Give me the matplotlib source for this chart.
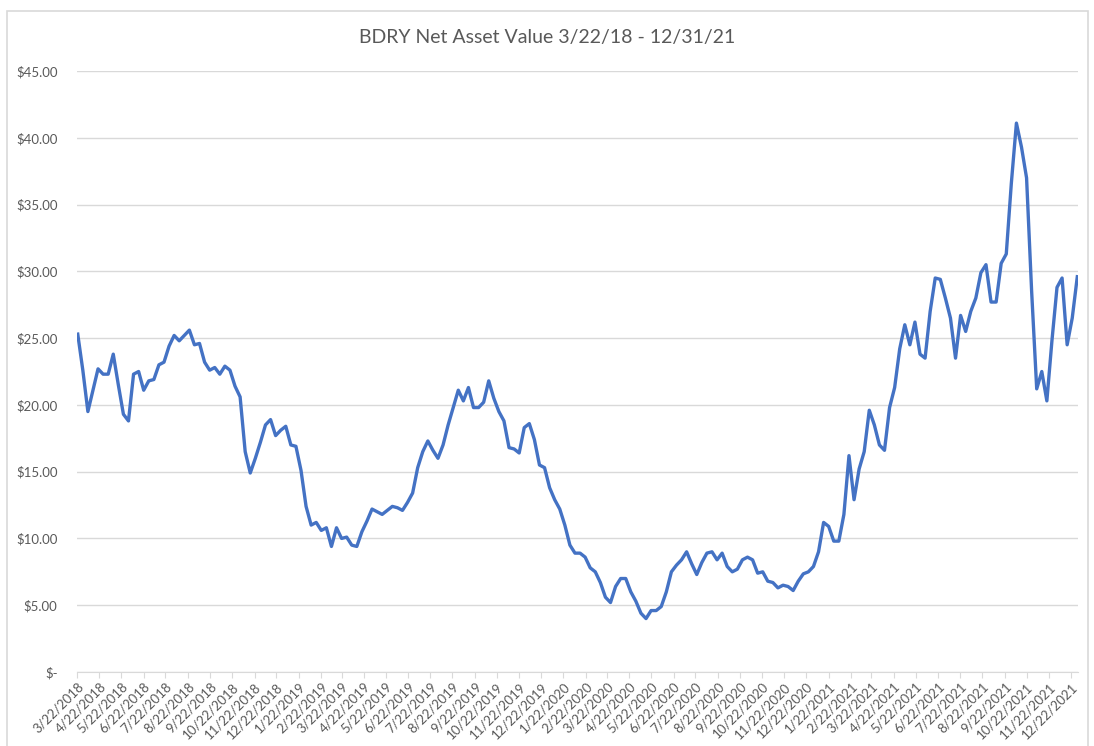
import matplotlib
matplotlib.use("Agg")
import matplotlib.pyplot as plt
import matplotlib.dates as mdates
from matplotlib.patches import Rectangle
from matplotlib.ticker import FuncFormatter
import pandas as pd

plt.rcParams['font.family'] = ['Lato', 'DejaVu Sans']

TITLE = "BDRY Net Asset Value 3/22/18 - 12/31/21"

# weekly NAV readings (Fridays), 3/23/2018 .. 12/31/2021
nav = [
    25.3, 22.6, 19.5, 21.1, 22.7, 22.3, 22.3, 23.8, 21.5, 19.3,
    18.8, 22.3, 22.5, 21.1, 21.8, 21.9, 23.0, 23.2, 24.4, 25.2,
    24.8, 25.2, 25.6, 24.5, 24.6, 23.2, 22.6, 22.8, 22.3, 22.9,
    22.6, 21.4, 20.6, 16.5, 14.9, 16.0, 17.2, 18.5, 18.9, 17.7,
    18.1, 18.4, 17.0, 16.9, 15.1, 12.4, 11.0, 11.2, 10.6, 10.8,
    9.4, 10.8, 10.0, 10.1, 9.5, 9.4, 10.5, 11.3, 12.2, 12.0,
    11.8, 12.1, 12.4, 12.3, 12.1, 12.7, 13.4, 15.3, 16.5, 17.3,
    16.6, 16.0, 17.0, 18.5, 19.8, 21.1, 20.3, 21.3, 19.8, 19.8,
    20.2, 21.8, 20.5, 19.5, 18.8, 16.8, 16.7, 16.4, 18.3, 18.6,
    17.4, 15.5, 15.3, 13.8, 12.9, 12.2, 11.0, 9.5, 8.9, 8.9,
    8.6, 7.8, 7.5, 6.7, 5.6, 5.2, 6.4, 7.0, 7.0, 6.0,
    5.3, 4.4, 4.0, 4.6, 4.6, 4.9, 6.0, 7.5, 8.0, 8.4,
    9.0, 8.1, 7.3, 8.2, 8.9, 9.0, 8.4, 8.9, 7.9, 7.5,
    7.7, 8.4, 8.6, 8.4, 7.4, 7.5, 6.8, 6.7, 6.3, 6.5,
    6.4, 6.1, 6.8, 7.35, 7.5, 7.9, 9.0, 11.2, 10.9, 9.8,
    9.8, 11.8, 16.2, 12.9, 15.2, 16.5, 19.6, 18.5, 17.0, 16.6,
    19.8, 21.3, 24.2, 26.0, 24.5, 26.2, 23.8, 23.5, 27.0, 29.5,
    29.4, 28.0, 26.5, 23.5, 26.7, 25.5, 27.0, 28.0, 29.9, 30.5,
    27.7, 27.7, 30.6, 31.3, 36.6, 41.1, 39.3, 37.0, 28.5, 21.2,
    22.5, 20.3, 24.8, 28.8, 29.5, 24.5, 26.5, 29.6,
]
dates = pd.date_range("2018-03-23", periods=len(nav), freq="7D")

y_ticks = [0, 5, 10, 15, 20, 25, 30, 35, 40, 45]
# monthly ticks on the 22nd, 3/22/2018 .. 12/22/2021
x_ticks = pd.date_range("2018-03-01", "2021-12-01", freq="MS") + pd.Timedelta(days=21)


def money(v, pos):
    if v == 0:
        return "$-"
    return "${:,.2f}".format(v)


def main():
    fig = plt.figure(figsize=(10.94, 7.46), dpi=100)
    fig.patches.append(Rectangle((7 / 1094, -0.01), 1081 / 1094, 1 - 11 / 746 + 0.01,
                                 transform=fig.transFigure, fill=False,
                                 edgecolor="#d9d9d9", linewidth=1.2))
    ax = fig.add_axes([0.0704, 0.0992, 0.9150, 0.8056])

    ax.plot(dates, nav, color="#4472c4", linewidth=2.4, solid_joinstyle="round")

    ax.set_ylim(0, 45)
    ax.set_yticks(y_ticks)
    ax.yaxis.set_major_formatter(FuncFormatter(money))
    ax.set_xlim(pd.Timestamp("2018-03-22"), pd.Timestamp("2022-01-01"))
    ax.set_xticks(x_ticks)
    ax.xaxis.set_major_formatter(
        FuncFormatter(lambda v, pos: "{d.month}/{d.day}/{d.year}".format(d=mdates.num2date(v))))

    ax.grid(axis="y", color="#d9d9d9", linewidth=1.0)
    ax.set_axisbelow(True)
    for s in ("left", "right", "top"):
        ax.spines[s].set_visible(False)
    ax.spines["bottom"].set_color("#d9d9d9")
    ax.tick_params(axis="y", length=0, pad=14, labelsize=9.5, labelcolor="#595959")
    ax.tick_params(axis="x", length=4, color="#d9d9d9", labelsize=9.5,
                   labelcolor="#595959", pad=2)
    for lab in ax.get_xticklabels():
        lab.set_rotation(45)
        lab.set_ha("right")
        lab.set_rotation_mode("anchor")

    fig.text(0.5, 1 - 38 / 746, TITLE, ha="center", va="center",
             fontsize=14, color="#595959")

    fig.savefig("out.png", dpi=100)


if __name__ == "__main__":
    main()
